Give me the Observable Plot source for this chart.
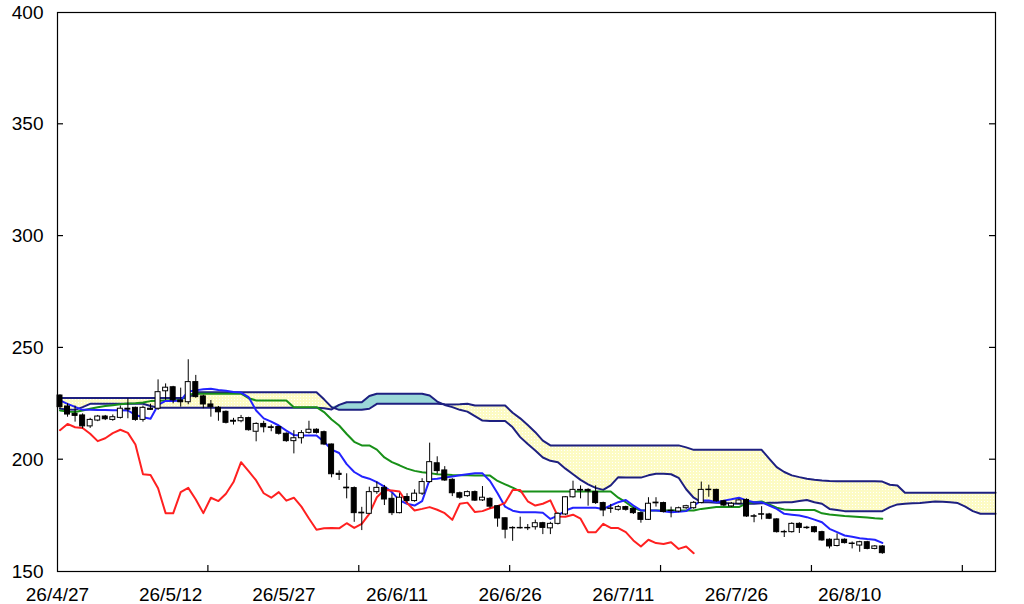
<!DOCTYPE html>
<html><head><meta charset="utf-8">
<script src="https://cdn.jsdelivr.net/npm/d3@7"></script>
<script src="https://cdn.jsdelivr.net/npm/@observablehq/plot@0.6"></script>
<style>body{margin:0;background:#fff}#chart{width:1024px;height:604px}</style>
</head><body><div id="chart"></div>
<script>
// ---- data (index = trading-day position) ----
const opens = [228.7,223.8,220.5,219.8,214.9,217.5,219.3,217.8,218.7,222.8,
223.2,217.8,222.8,222.8,230.6,232.4,226.5,225.7,234.7,228.3,
224.7,223.2,221.4,217.4,217.2,218.6,212.5,216,214.5,214.6,
211.6,208.3,209.6,212,213.4,212.3,206.8,193.7,187.5,187.3,
176.3,175.8,185.5,187.4,182.5,176.1,183.3,181.5,184.8,190,
198.4,195.2,191,185,183.7,185.5,181.8,182.5,179.2,173.8,
169.5,169.3,169.5,169.8,171.6,169.3,171.3,175.5,183.2,186.5,
186.5,185.5,180.6,178.2,177.6,178.8,178,176.1,173.1,180.5,
180.6,177.2,176.8,178.3,178.3,180.6,186.6,186.5,181.4,179.1,
180.3,182,174.7,175.6,175.5,173.3,167.7,167.6,171.3,169.6,
169.8,167.6,164.2,161.4,164.2,162.5,161.6,163.1,160.1,161.2];
const closes = [223.5,220.2,219.6,214.9,217.8,219.3,218.1,219,222.8,222.4,
217.8,223.2,222.3,230.2,232.2,226.5,225.7,234.7,228,224.7,
223.5,221.2,216.5,217.0,218.6,213.2,216,214.5,214.2,211.6,
208.3,209.6,211.9,213.4,212,206.8,193.5,193.2,187.2,176.1,
176.0,185.5,187.4,182.2,176.1,183,181.5,184.8,190,198.9,
194.9,190.7,185,183,185.5,181.7,183,179,173.7,168.7,
169.3,169.5,169.3,171.6,169.5,171.3,175.8,183.2,186.5,186.2,
185.8,180.6,177.3,178,178.8,177.6,176.1,173.1,180.3,180.8,
176.6,177,178.3,179.2,180.7,186.5,186.4,181.4,179.5,180.3,
181.8,174.6,174.5,175.4,173.6,167.6,167.5,171.3,169.5,169.4,
167.6,163.9,161.2,164.2,162.7,162.3,163.1,160.1,161.2,158.2];
const highs = [229,225,224,220.5,218.5,219.8,219.8,220,224,227.2,
223.5,224,224.8,235.7,233.9,232.8,232,244.7,237.7,228.8,
226.5,223.8,221.8,218.5,219.8,219,216.5,217.2,215.5,215,
212,213,213,217.2,213.8,212.8,207,195,193.7,187.8,
178.7,187.7,190,188.5,184.8,184.8,184.8,186.5,191.5,207.4,
201.3,196.9,191.5,185.5,186,186,188,183,179.5,174,
170,174.3,171,173,172,172,176.3,183.5,190.4,188.3,
187,188.3,181,180,179.5,179.2,178.5,176.5,183,183,
181,178.8,178.8,179.6,181.3,190,188.6,186.8,181.8,180.8,
182.3,182.5,175.5,179,176,173.6,168.4,171.8,171.8,170.2,
170.2,168,164.6,166.8,164.6,163.2,163.5,163.5,161.6,161.6];
const lows = [222.5,219,216.8,213.8,214,217,217.5,217.2,218.2,218.3,
217.2,216.8,222,222,226.5,225,223.5,224.6,227.5,222.8,
219,217.2,216,215.5,216.5,212.8,208,212,212.5,211,
207.8,202.6,207,211.5,211.5,206.3,191.9,190.7,182.5,172,
168.3,175.5,184.5,179.5,175,175.8,180.5,181,184,189.5,
193.5,190.3,183.5,182.3,183.2,181.3,181.3,178,169.8,164.6,
163.5,169,168.3,168.5,166.5,166.5,170.8,175,182.8,182.5,
179.2,180,174.5,176,177,177,175.5,171.6,172.8,178.8,
176.2,174,176.3,177.8,177.8,180.3,183.2,181,179,178.7,
180,174.2,171.8,173.1,173.2,167.2,165.2,167.2,167,168.8,
167.2,163.5,160.1,161,162.3,160.1,158.6,159.7,159.7,157.7];
const tenkan = [226.5,225,223.6,222.3,222.3,222.2,222.2,222.1,222.1,222,
220,219,218.3,224.5,226.3,226.3,226.5,230.5,231,231.5,
231.7,231.2,230.8,230.3,230,228,222,218.5,217,215.3,
213,211,210.8,210.8,210.8,208,204.5,203,198,194.5,
192.5,191.5,190,188,185.5,181.8,180.3,179.5,181.5,191.2,
191.5,192,192.5,193,193.5,193.9,193.9,190.5,185,179,
177.2,176.5,176.5,176.5,176.3,173.5,175,177.3,178.5,178.5,
178.5,178.5,178,179.5,181,182,179.5,177.3,177.3,177.3,
176.9,176.5,176.7,177,179.4,181.8,181.8,181,181.7,182.3,
183,181.8,181,181,179.5,178,175.8,175.4,175,174.3,
173.2,172,169.1,167.6,166.1,165.5,164.9,164.5,164.2,162.8];
const kijun = [222,221.5,221.3,222,222.8,223.5,224,224.4,224.8,225.1,
225.3,225.6,226.2,226.4,226.5,226.6,226.7,229.2,229.5,229.5,
229.5,229.5,229.5,229.5,229.5,227.5,226.5,226.5,226.5,226.5,
226.5,223.5,223.5,223.5,223.5,221.3,218,215.3,211.5,208,
206.4,206.4,204.5,201,198.9,197.5,196,195,194.4,194,
193.5,193.4,193.2,193.1,193,192.9,192.9,192.9,190.5,189,
187.5,185.8,185.8,185.8,185.8,185.8,185.8,185.8,185.8,185.8,
185.8,185.8,185.8,185.8,183,181,178.5,177.3,177.3,177.3,
177.3,177.3,177.3,177.3,177.3,178,178.4,178.8,178.8,178.8,
178.8,180.6,181,181.3,180,178.5,177.7,177.5,177.5,177.5,
177.5,176,175.5,175.2,174.8,174.6,174.4,174.1,173.8,173.6];
const spanA = [227.6,227.6,227.6,227.6,227.6,227.6,227.6,227.6,227.6,227.6,
227.6,227.6,227.6,227.6,227.6,227.6,227.6,227.6,230.2,230.2,
230.2,230.2,230.2,230.2,230.2,230.2,230.2,230.2,230.2,230.2,
230.2,230.2,230.2,230.2,230.2,227,223.5,222.3,222.3,222.3,
222.3,222.8,225,225,225,225,225,225,225,225,
225,224.8,224.7,224.8,225,224.2,224.2,224.2,224.2,224.2,
221,218.5,215.5,212.3,208.5,206.4,206.4,206.4,206.4,206.4,
206.4,206.4,206.4,206.4,206.4,206.4,206.4,206.4,206.4,206.4,
206.4,206.4,206.4,205.5,204.4,204.4,204.4,204.4,204.4,204.4,
204.4,204.4,204.4,204.4,200.5,196.7,194.5,193,192.2,191.5,
191,190.7,190.5,190.4,190.4,190.4,190.4,190.4,190.4,190.2,
188.8,188.5,185.2,185.2,185.2,185.2,185.2,185.2,185.2,185.2,
185.2,185.2,185.2,185.2,185.2];
const spanB = [222.8,222.5,222.3,223.5,225,225,225,225,225,225,
225,225,224,223.2,223.2,223.2,223.2,223.2,223.2,223.2,
223.2,223.2,223.2,223.2,223.2,223.2,223.2,223.2,223.2,223.2,
223.2,223.2,223.2,223.2,223.2,223,222.5,224.5,225.7,225.7,
225.7,228.5,229.5,229.5,229.5,229.5,229.5,229.5,229.5,228.7,
226,224.5,223.5,222.3,221.5,219.5,217.5,217.3,217.3,217.3,
214.5,210.1,207,204.1,201,199.5,198.9,196,193.5,191,
189,187.4,186.5,188.5,192.2,192,192,192,193,193.7,
193.7,193.5,191.9,186.8,183,181,181,180.8,180.6,180.4,
180.3,180.3,180.3,180.5,180.7,180.8,181,181,181.5,182,
181,180.3,178,177.5,177,177,177,177,177,177,
178.8,180,180.3,180.5,180.6,181,181.3,181.2,181,180.6,
179,177,175.8,175.8,175.8];
const CHIKOU_LAG = 25;               // lagging span: close drawn 25 bars back
const xLabels = ["26/4/27","26/5/12","26/5/27","26/6/11","26/6/26","26/7/11","26/7/26","26/8/10"];
const xLabelIdx = [0,15,30,45,60,75,90,105];
const xTickIdx = [20,40,60,80,100,120];
const yTicks = [150,200,250,300,350,400];

// ---- layout constants ----
const X0 = -0.33, X1 = 124;   // visible index range
const BODY = 0.33;            // half candle body width (index units)

const candles = opens.map((o, i) => ({i, o, c: closes[i], h: highs[i], l: lows[i]}));
const cloud = spanA.map((a, i) => ({i, a, b: spanB[i]}));
const tenkanD = tenkan.map((v, i) => ({i, v}));
const kijunD = kijun.map((v, i) => ({i, v}));
const chikouD = closes.slice(CHIKOU_LAG).map((v, i) => ({i, v}));
const labelPos = xLabelIdx.map(d => d + X0);
const labelMap = new Map(labelPos.map((p, k) => [p, xLabels[k]]));

const YELLOW = "#fcfac0", TEAL = "#9bd8d8", NAVY = "#1e2080";

const plot = Plot.plot({
  width: 1024, height: 604,
  marginLeft: 57, marginRight: 29, marginTop: 12, marginBottom: 33,
  x: {domain: [X0, X1], axis: null},
  y: {domain: [150, 400], axis: null},
  style: {fontFamily: "'Liberation Sans', Arial, sans-serif", fontSize: "19px", background: "#fff", color: "#000"},
  marks: [
    Plot.areaY(cloud, {x: "i", y1: "b", y2: d => Math.max(d.a, d.b), fill: YELLOW, curve: "linear"}),
    Plot.areaY(cloud, {x: "i", y1: "a", y2: d => Math.max(d.a, d.b), fill: TEAL, curve: "linear"}),
    Plot.lineY(cloud, {x: "i", y: "a", stroke: NAVY, strokeWidth: 2}),
    Plot.lineY(cloud, {x: "i", y: "b", stroke: NAVY, strokeWidth: 2}),
    Plot.lineY(kijunD, {x: "i", y: "v", stroke: "#189018", strokeWidth: 2}),
    Plot.lineY(tenkanD, {x: "i", y: "v", stroke: "#2323ff", strokeWidth: 2}),
    Plot.lineY(chikouD, {x: "i", y: "v", stroke: "#ff2020", strokeWidth: 2}),
    Plot.ruleX(candles, {x: "i", y1: "l", y2: "h", stroke: "#000", strokeWidth: 1}),
    Plot.rect(candles, {filter: d => d.c >= d.o, x1: d => d.i - BODY, x2: d => d.i + BODY, y1: "o", y2: "c", fill: "#fff", stroke: "#000", strokeWidth: 1}),
    Plot.rect(candles, {filter: d => d.c < d.o, x1: d => d.i - BODY, x2: d => d.i + BODY, y1: "o", y2: "c", fill: "#000", stroke: "#000", strokeWidth: 1}),
    Plot.axisY({ticks: yTicks, tickSize: 0, tickPadding: 14, anchor: "left", label: null, tickFormat: d => String(d)}),
    Plot.axisX({ticks: labelPos, tickSize: 0, tickPadding: 16, anchor: "bottom", label: null, tickFormat: d => labelMap.get(d)}),
    Plot.frame({stroke: "#000", strokeWidth: 1.2})
  ]
});

// inward tick marks drawn with the plot's own scales
const sx = plot.scale("x"), sy = plot.scale("y");
const svg = d3.select(plot);
const g = svg.append("g").attr("stroke", "#000").attr("stroke-width", 1.2);
const xl = sx.apply(X0), xr = sx.apply(X1), yb = sy.apply(150);
yTicks.slice(1, -1).forEach(v => {
  const y = sy.apply(v);
  g.append("line").attr("x1", xl).attr("x2", xl + 6).attr("y1", y).attr("y2", y);
  g.append("line").attr("x1", xr - 6).attr("x2", xr).attr("y1", y).attr("y2", y);
});
xTickIdx.forEach(v => {
  const x = sx.apply(v + X0);
  g.append("line").attr("x1", x).attr("x2", x).attr("y1", yb).attr("y2", yb - 6);
});
// dotted texture for the yellow cloud
const defs = svg.insert("defs", ":first-child");
const pat = defs.append("pattern").attr("id", "dots").attr("width", 3).attr("height", 3).attr("patternUnits", "userSpaceOnUse");
pat.append("rect").attr("width", 3).attr("height", 3).attr("fill", "#fdfbc4");
pat.append("rect").attr("width", 1).attr("height", 1).attr("fill", "#ffffff");
svg.selectAll(`[fill="${YELLOW}"]`).attr("fill", "url(#dots)");

document.getElementById("chart").appendChild(plot);
</script>
</body></html>
